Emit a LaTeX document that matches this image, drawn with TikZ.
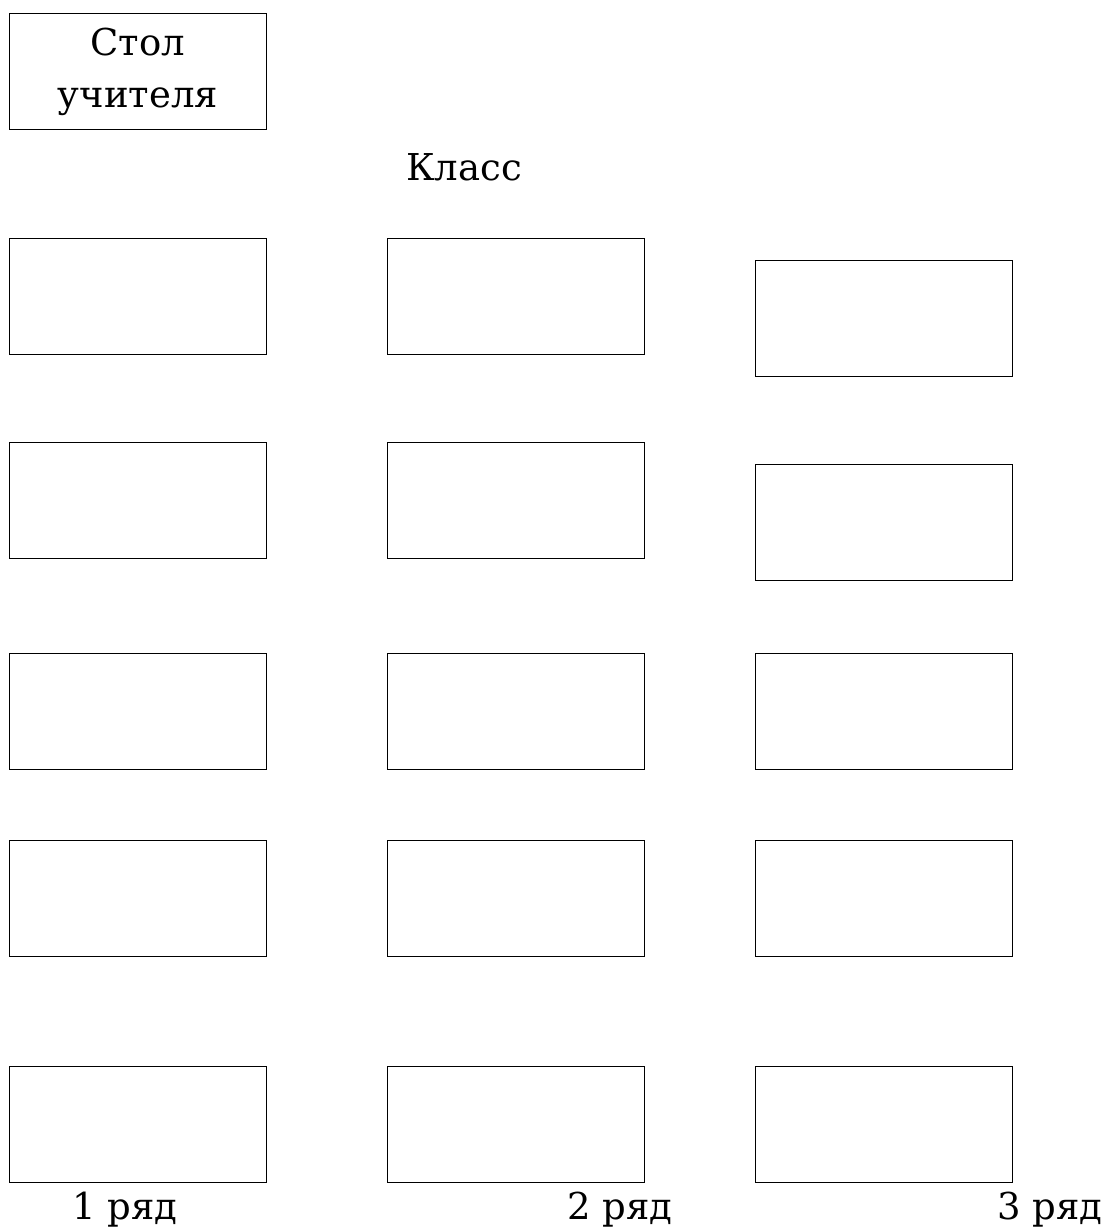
\documentclass[tikz,border=0pt]{standalone}
\usepackage{fontspec}
\setmainfont{DejaVu Serif}
\begin{document}
\begin{tikzpicture}[x=1pt,y=-1pt,
  desk/.style={draw,line width=0.8pt,minimum width=257pt,minimum height=116pt,anchor=north west,inner sep=0pt},
  lbl/.style={font=\fontsize{37}{44}\selectfont,inner sep=0pt}]
\useasboundingbox (0,0) rectangle (1105,1231);
\node[desk,align=center,font=\fontsize{37}{52}\selectfont] (teacher) at (9,13) {Стол\\учителя};
\node[lbl] (klass) at (464,167) {Класс};
% column 1
\node[desk] (a1) at (9,238) {};
\node[desk] (a2) at (9,442) {};
\node[desk] (a3) at (9,653) {};
\node[desk] (a4) at (9,840) {};
\node[desk] (a5) at (9,1066) {};
% column 2
\node[desk] (b1) at (387,238) {};
\node[desk] (b2) at (387,442) {};
\node[desk] (b3) at (387,653) {};
\node[desk] (b4) at (387,840) {};
\node[desk] (b5) at (387,1066) {};
% column 3
\node[desk] (c1) at (755,260) {};
\node[desk] (c2) at (755,464) {};
\node[desk] (c3) at (755,653) {};
\node[desk] (c4) at (755,840) {};
\node[desk] (c5) at (755,1066) {};
\node[lbl] (r1) at (125,1210) {1 ряд};
\node[lbl] (r2) at (620,1210) {2 ряд};
\node[lbl] (r3) at (1050,1210) {3 ряд};
\end{tikzpicture}
\end{document}
